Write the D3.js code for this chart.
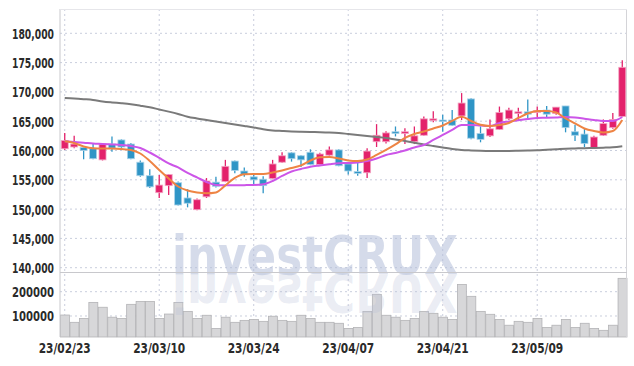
<!DOCTYPE html>
<html><head><meta charset="utf-8">
<script src="https://cdn.jsdelivr.net/npm/d3@7"></script>
<style>html,body{margin:0;padding:0;background:#fff;}svg{display:block;}</style>
</head><body>
<svg id="c" width="634" height="366"></svg>
<script>
const dates = ["23/02/23","23/02/24","23/02/27","23/02/28","23/03/02","23/03/03","23/03/06","23/03/07","23/03/08","23/03/09",
"23/03/10","23/03/13","23/03/14","23/03/15","23/03/16","23/03/17","23/03/20","23/03/21","23/03/22","23/03/23",
"23/03/24","23/03/27","23/03/28","23/03/29","23/03/30","23/03/31","23/04/03","23/04/04","23/04/05","23/04/06",
"23/04/07","23/04/10","23/04/11","23/04/12","23/04/13","23/04/14","23/04/17","23/04/18","23/04/19","23/04/20",
"23/04/21","23/04/24","23/04/25","23/04/26","23/04/27","23/04/28","23/05/02","23/05/03","23/05/04","23/05/08",
"23/05/09","23/05/10","23/05/11","23/05/12","23/05/15","23/05/16","23/05/17","23/05/18","23/05/19","23/05/22"];
const open  = [160300,160600,160500,160300,158400,161100,161800,161100,158000,155700,
152800,154000,154500,151900,149900,152100,154600,154700,158200,156500,
155500,155100,155200,158000,159600,159100,159700,157600,159200,160100,
157700,156400,156200,161500,161500,163200,162900,161500,162600,165100,
165200,165200,165900,168800,162900,162500,163600,165400,166300,166600,
166500,166900,166300,167600,163200,162800,160400,162600,163900,165800];
const high  = [163000,162500,160500,161200,161200,162400,161900,161300,158300,156800,
155800,156000,154700,153400,151800,155300,155500,158400,158300,157100,
156000,155600,158400,159700,159700,159200,160200,159600,160700,160200,
157700,158000,160400,164500,163300,164100,163800,164100,165800,166700,
166100,166900,169800,168900,164100,165300,167500,167300,167300,168700,
167500,167600,167400,167600,164400,163700,162500,165300,166400,175400];
const low   = [160100,160400,158500,158500,158300,159800,160100,158500,155500,153600,
151900,152400,150600,150300,149800,151900,153700,154600,156100,155500,
154200,152700,155100,157900,158100,157200,157500,157500,159100,157300,
155900,155700,155300,160600,161200,162400,161100,161100,162500,164800,
163200,164200,165200,161900,161400,162300,163500,165200,165200,165400,
165700,165600,166100,163100,161600,160600,160300,162500,163700,165700];
const close = [161700,161100,160000,158600,161100,160400,160600,158600,155700,153800,
154100,155900,150700,151000,151600,154800,153900,157300,156600,155900,
155000,154000,157700,159100,158600,158400,157600,159400,160100,157400,
156500,156100,159900,162600,163000,162900,163200,162500,165400,165400,
165000,164300,168100,162100,161900,163700,166500,166900,166600,166200,
166800,166200,167400,163900,162600,161200,162300,164600,165300,174200];
const volume = [104000,74000,90000,156000,136000,95000,90000,148000,160000,160000,
90000,108000,156000,119000,90000,103000,49000,95000,74000,82000,
86000,78000,99000,82000,78000,103000,90000,74000,74000,70000,
49000,53000,119000,189000,103000,95000,82000,90000,119000,111000,
95000,86000,230000,181000,119000,107000,86000,62000,78000,74000,
90000,53000,62000,86000,53000,70000,49000,41000,62000,255000];
const ma5 = [161580,161290,160690,160380,160350,160350,160260,160090,159490,158210,
156680,155230,153860,153180,152840,152700,152840,154040,155310,155950,
156000,156000,156250,156590,157020,157450,158300,158850,158900,158640,
158300,158210,158470,159240,160090,161030,162140,162820,163250,163760,
164270,165040,165770,165040,164390,164190,164360,164700,165550,166320,
166740,166740,166490,165470,164610,163760,163330,163080,163330,165210];
const ma20 = [161580,161460,161340,161200,161120,161030,160940,160770,160430,159660,
158730,157790,157110,156170,155400,154630,154120,154070,154070,154090,
154120,154240,154800,155660,156420,156850,157240,157450,157650,157820,
157870,157960,158210,158640,159240,159580,160010,160520,160940,161800,
162650,163500,164360,164360,164270,164190,164700,164950,165160,165380,
165550,165580,165640,165720,165640,165430,165210,165040,165040,165720];
const ma60 = [168960,168880,168760,168620,168370,168200,168060,167890,167650,167380,
167000,166630,166230,165770,165470,165210,164950,164700,164440,164190,
163930,163620,163420,163330,163250,163200,163160,163130,163080,162990,
162820,162650,162480,162310,162140,161880,161630,161340,161030,160770,
160520,160260,160090,160010,159950,159920,159920,159920,159950,159990,
160040,160130,160210,160300,160350,160400,160430,160480,160550,160720];
const priceTicks = [140000,145000,150000,155000,160000,165000,170000,175000,180000];
const volTicks = [100000,200000];
const dateTicks = ["23/02/23","23/03/10","23/03/24","23/04/07","23/04/21","23/05/09"];

const svg = d3.select("#c");
const L = 60, R = 627, T = 9, PB = 272, VB = 337;
const x = d3.scaleBand().domain(dates).range([L, R]).padding(0);
const bw = x.bandwidth();
const cx = d => x(d) + bw / 2;
const y = d3.scaleLinear().domain([139266, 184147]).range([PB, T]);
const yv = d3.scaleLinear().domain([13580, 281070]).range([VB, PB]);

const gridColor = "#c9cedd";
const labelFont = "'DejaVu Sans Condensed','DejaVu Sans',sans-serif";

svg.append("g").selectAll("line").data(priceTicks).join("line")
  .attr("x1", L).attr("x2", R).attr("y1", d => y(d)).attr("y2", d => y(d))
  .attr("stroke", gridColor).attr("stroke-width", 1).attr("stroke-dasharray", "2,3");
svg.append("g").selectAll("line").data(volTicks).join("line")
  .attr("x1", L).attr("x2", R).attr("y1", d => yv(d)).attr("y2", d => yv(d))
  .attr("stroke", gridColor).attr("stroke-width", 1).attr("stroke-dasharray", "2,3");
svg.append("g").selectAll("line").data(dateTicks).join("line")
  .attr("x1", d => cx(d)).attr("x2", d => cx(d)).attr("y1", T).attr("y2", VB)
  .attr("stroke", gridColor).attr("stroke-width", 1).attr("stroke-dasharray", "2,3");

svg.append("g").selectAll("rect").data(dates).join("rect")
  .attr("x", d => x(d) + 0.5).attr("width", bw - 0.5)
  .attr("y", (d, i) => yv(volume[i])).attr("height", (d, i) => VB - yv(volume[i]))
  .attr("fill", "#d7d7d9").attr("stroke", "#b3b3b6").attr("stroke-width", 0.8);

// watermark
const wm = svg.append("g");
wm.append("text").attr("x", 172).attr("y", 274)
  .attr("font-family", "'DejaVu Sans',sans-serif").attr("font-weight", "bold")
  .attr("font-size", 53).attr("textLength", 286).attr("lengthAdjust", "spacingAndGlyphs")
  .attr("fill", "#b3bdd8").attr("fill-opacity", 0.55).text("investCRUX");
const clip = svg.append("clipPath").attr("id", "vclip");
clip.append("rect").attr("x", L).attr("y", PB).attr("width", R - L).attr("height", VB - PB);
wm.append("g").attr("clip-path", "url(#vclip)")
  .append("text").attr("transform", "translate(0,548) scale(1,-1)")
  .attr("x", 172).attr("y", 274)
  .attr("font-family", "'DejaVu Sans',sans-serif").attr("font-weight", "bold")
  .attr("font-size", 53).attr("textLength", 286).attr("lengthAdjust", "spacingAndGlyphs")
  .attr("fill", "#b8c0d8").attr("fill-opacity", 0.3).text("investCRUX");

svg.append("line").attr("x1", L).attr("x2", L).attr("y1", T).attr("y2", VB).attr("stroke", "#c8c8cc");
svg.append("line").attr("x1", R - 0.5).attr("x2", R - 0.5).attr("y1", T).attr("y2", VB).attr("stroke", "#d4d4d8");
svg.append("line").attr("x1", L).attr("x2", R).attr("y1", PB + 0.5).attr("y2", PB + 0.5).attr("stroke", "#c8c8cc");
svg.append("line").attr("x1", L).attr("x2", R).attr("y1", T + 0.5).attr("y2", T + 0.5).attr("stroke", "#e6e6ea");

const up = "#e3216b", down = "#2f95c6";
const cg = svg.append("g").selectAll("g").data(dates).join("g");
cg.append("line")
  .attr("x1", d => cx(d)).attr("x2", d => cx(d))
  .attr("y1", (d, i) => y(high[i])).attr("y2", (d, i) => y(low[i]))
  .attr("stroke", (d, i) => close[i] >= open[i] ? up : down).attr("stroke-width", 1.3);
cg.append("rect")
  .attr("x", d => cx(d) - 3.5).attr("width", 7)
  .attr("y", (d, i) => y(Math.max(open[i], close[i])))
  .attr("height", (d, i) => Math.max(1.5, Math.abs(y(open[i]) - y(close[i]))))
  .attr("fill", (d, i) => close[i] >= open[i] ? up : down)
  .attr("stroke", (d, i) => close[i] >= open[i] ? "#f3a6c4" : "#a9d2e8").attr("stroke-width", 0.8);

const line = arr => d3.line().x((d, i) => cx(dates[i])).y(d => y(d)).curve(d3.curveMonotoneX)(arr);
svg.append("path").attr("d", line(ma60)).attr("fill", "none").attr("stroke", "#7a7a7a").attr("stroke-width", 2);
svg.append("path").attr("d", line(ma20)).attr("fill", "none").attr("stroke", "#cc55e8").attr("stroke-width", 2);
svg.append("path").attr("d", line(ma5)).attr("fill", "none").attr("stroke", "#ee8444").attr("stroke-width", 2);

const fmt = d3.format(",");
svg.append("g").selectAll("text").data(priceTicks).join("text")
  .attr("x", 54).attr("y", d => y(d) + 1.5).attr("text-anchor", "end").attr("dominant-baseline", "middle")
  .attr("font-family", labelFont).attr("font-weight", "bold").attr("font-size", 14).attr("fill", "#2a2a2a")
  .attr("textLength", 42).attr("lengthAdjust", "spacingAndGlyphs")
  .text(d => fmt(d));
svg.append("g").selectAll("text").data(volTicks).join("text")
  .attr("x", 54).attr("y", d => yv(d) + 1).attr("text-anchor", "end").attr("dominant-baseline", "middle")
  .attr("font-family", labelFont).attr("font-weight", "bold").attr("font-size", 14).attr("fill", "#2a2a2a")
  .attr("textLength", 42).attr("lengthAdjust", "spacingAndGlyphs")
  .text(d => d);
svg.append("g").selectAll("text").data(dateTicks).join("text")
  .attr("x", d => cx(d)).attr("y", 349).attr("text-anchor", "middle").attr("dominant-baseline", "middle")
  .attr("font-family", labelFont).attr("font-weight", "bold").attr("font-size", 14).attr("fill", "#2a2a2a")
  .attr("textLength", 52).attr("lengthAdjust", "spacingAndGlyphs")
  .text(d => d);
</script>
</body></html>
